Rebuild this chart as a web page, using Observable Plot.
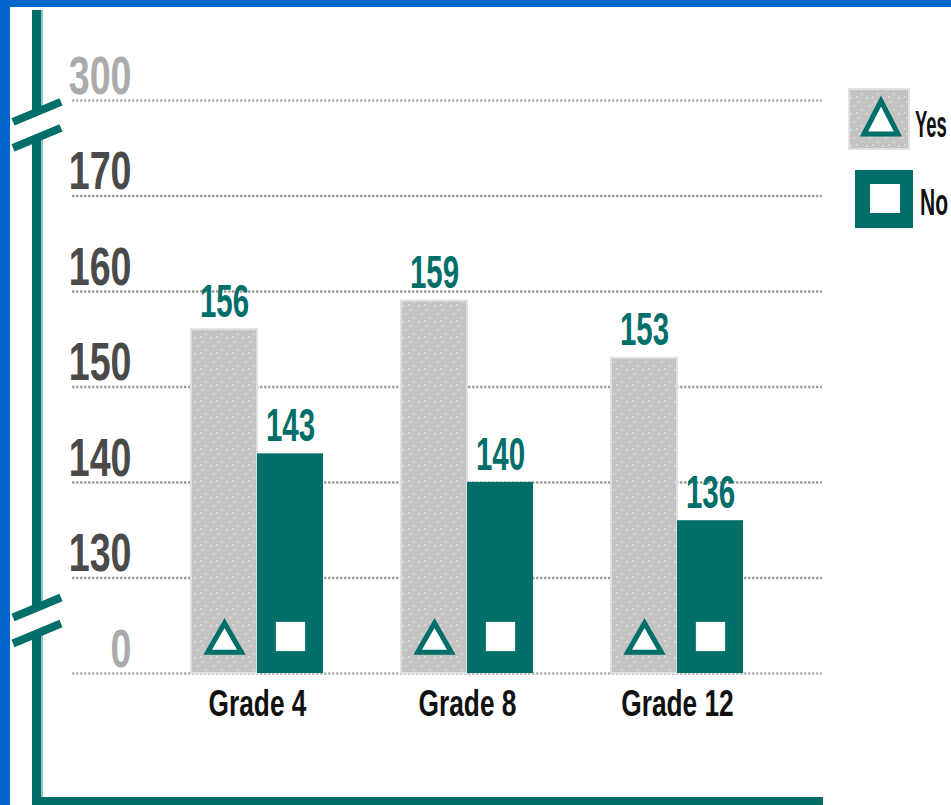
<!DOCTYPE html>
<html>
<head>
<meta charset="utf-8">
<script src="https://cdn.jsdelivr.net/npm/d3@7"></script>
<script src="https://cdn.jsdelivr.net/npm/@observablehq/plot@0.6"></script>
<style>
  html, body { margin: 0; padding: 0; background: #ffffff; overflow: hidden; }
  #wrap { position: relative; width: 951px; height: 805px; overflow: hidden; background: #ffffff; }
  #chart svg { display: block; }
  .edge-top { position: absolute; left: 0; top: 0; width: 951px; height: 7px; background: #0066cc; }
  .edge-left { position: absolute; left: 0; top: 0; width: 10px; height: 805px; background: #0066cc; }
</style>
</head>
<body>
<div id="wrap">
  <div id="chart"></div>
  <div class="edge-top"></div>
  <div class="edge-left"></div>
</div>
<script>
// ---------------- data ----------------
const grades = ["Grade 4", "Grade 8", "Grade 12"];
const yesValues = [156, 159, 153];
const noValues = [143, 140, 136];
const tickValues = [0, 130, 140, 150, 160, 170, 300];
const seriesLabels = ["Yes", "No"];

// ---------------- broken axis mapping ----------------
// 0 sits one step below 130, 300 one step above 170 (axis breaks)
function disp(v) {
  if (v <= 0) return 120;
  if (v >= 300) return 180;
  return v;
}

const rows = grades.map((g, i) => ({grade: g, yes: yesValues[i], no: noValues[i]}));

const TEAL = "#006e69";
const FONT = "'Liberation Sans', Arial, sans-serif";

const W = 951, H = 805;
const mL = 72, mR = 129, mT = 100, mB = 132;
const pIn = 0.373, pOut = 0.468;
const step = (W - mL - mR) / (grades.length - pIn + 2 * pOut);
const bw = step * (1 - pIn);

const plot = Plot.plot({
  width: W,
  height: H,
  marginLeft: mL,
  marginRight: mR,
  marginTop: mT,
  marginBottom: mB,
  style: {background: "transparent", fontFamily: FONT, overflow: "visible"},
  x: {type: "band", domain: grades, paddingInner: pIn, paddingOuter: pOut, align: 0.6, axis: null},
  y: {domain: [120, 180], axis: null},
  marks: [
    // gridlines
    Plot.ruleY(tickValues.filter(d => d !== 0 && d !== 300), {y: d => disp(d), stroke: "#9e9e9e", strokeWidth: 2.5, strokeDasharray: "2.5,1.5"}),
    Plot.ruleY(tickValues.filter(d => d === 0 || d === 300), {y: d => disp(d), stroke: "#b4b4b4", strokeWidth: 2.5, strokeDasharray: "2.5,1.5"}),
    // bars
    Plot.barY(rows, {x: "grade", y1: () => disp(0), y2: d => disp(d.yes), insetRight: bw / 2, fill: "url(#dotfill)", stroke: "#e0e0e0", strokeWidth: 2}),
    Plot.barY(rows, {x: "grade", y1: () => disp(0), y2: d => disp(d.no), insetLeft: bw / 2, fill: TEAL}),
    // symbols inside the bars
    Plot.dot(rows, {x: "grade", frameAnchor: "bottom", dx: -bw / 4, dy: -31, symbol: "triangle", r: 12.5, stroke: TEAL, strokeWidth: 5, fill: "white"}),
    Plot.dot(rows, {x: "grade", frameAnchor: "bottom", dx: bw / 4, dy: -37, symbol: "square", r: 16.5, fill: "white"}),
    // value labels (text mark #0, #1)
    Plot.text(rows, {x: "grade", y: d => disp(d.yes), text: d => String(d.yes), dx: -bw / 4, dy: -13, lineAnchor: "bottom", textAnchor: "middle", fill: TEAL, fontSize: 46, fontWeight: "bold"}),
    Plot.text(rows, {x: "grade", y: d => disp(d.no), text: d => String(d.no), dx: bw / 4, dy: -13, lineAnchor: "bottom", textAnchor: "middle", fill: TEAL, fontSize: 46, fontWeight: "bold"}),
    // category labels (text mark #2)
    Plot.text(grades, {x: d => d, text: d => d, frameAnchor: "bottom", dy: 42, lineAnchor: "bottom", textAnchor: "middle", fill: "#111111", fontSize: 37, fontWeight: "bold"}),
    // y tick labels (text mark #3, #4)
    Plot.text(tickValues.filter(d => d !== 0 && d !== 300), {y: d => disp(d), text: d => String(d), frameAnchor: "left", dx: 59, dy: -7, textAnchor: "end", lineAnchor: "bottom", fill: "#4a4a4a", fontSize: 53, fontWeight: "bold"}),
    Plot.text(tickValues.filter(d => d === 0 || d === 300), {y: d => disp(d), text: d => String(d), frameAnchor: "left", dx: 59, dy: -7, textAnchor: "end", lineAnchor: "bottom", fill: "#ababab", fontSize: 53, fontWeight: "bold"})
  ]
});

document.getElementById("chart").appendChild(plot);

// ---------------- dotted fill pattern ----------------
const svg = d3.select(plot);
const defs = svg.insert("defs", ":first-child");
const pat = defs.append("pattern").attr("id", "dotfill").attr("patternUnits", "userSpaceOnUse")
  .attr("width", 16).attr("height", 16);
pat.append("rect").attr("width", 16).attr("height", 16).attr("fill", "#c3c3c3");
[[2, 1], [10, 5], [5, 9], [13, 13], [8, 0]].forEach(([x, y]) =>
  pat.append("rect").attr("x", x).attr("y", y).attr("width", 2).attr("height", 2).attr("fill", "#d8d8d8"));

// ---------------- condensed lettering ----------------
const textGroups = Array.from(plot.querySelectorAll('g[aria-label="text"]'));
function condense(group, s) {
  if (!group) return;
  group.querySelectorAll("text").forEach(t => {
    const tr = t.getAttribute("transform") || "";
    const x = +(t.getAttribute("x") || 0), y = +(t.getAttribute("y") || 0);
    t.removeAttribute("x"); t.removeAttribute("y");
    t.setAttribute("transform", `${tr} translate(${x},${y}) scale(${s},1)`);
  });
}
condense(textGroups[0], 0.64);
condense(textGroups[1], 0.64);
condense(textGroups[2], 0.71);
condense(textGroups[3], 0.71);
condense(textGroups[4], 0.71);

// ---------------- teal axis frame with breaks ----------------
const yS = plot.scale("y");
const y180 = yS.apply(180), y170 = yS.apply(170), y130 = yS.apply(130), y120 = yS.apply(120);
const brTop = y180 + 0.26 * (y170 - y180);
const brBot = y130 + 0.45 * (y120 - y130);
const gap = 13;
const frame = svg.append("g").attr("aria-label", "axis-frame");
const segs = [[10, brTop - gap], [brTop + gap, brBot - gap], [brBot + gap, H + 1]];
segs.forEach(([a, b]) => {
  frame.append("rect").attr("x", 32).attr("y", a).attr("width", 9).attr("height", b - a).attr("fill", TEAL);
  frame.append("rect").attr("x", 41).attr("y", a).attr("width", 2).attr("height", b - a).attr("fill", "#8ec7c5");
});
frame.append("rect").attr("x", 32).attr("y", 797).attr("width", 791).attr("height", 10).attr("fill", TEAL);
[brTop, brBot].forEach(c => {
  [-gap, gap].forEach(o => {
    frame.append("line")
      .attr("x1", 13).attr("y1", c + o + 10)
      .attr("x2", 61).attr("y2", c + o - 10)
      .attr("stroke", TEAL).attr("stroke-width", 8);
  });
});

// ---------------- legend ----------------
const leg = svg.append("g").attr("aria-label", "legend").style("font-family", FONT).attr("text-anchor", "start");
// Yes
leg.append("rect").attr("x", 849).attr("y", 89).attr("width", 60).attr("height", 60)
  .attr("fill", "url(#dotfill)").attr("stroke", "#e2e2e2").attr("stroke-width", 2);
leg.append("polygon").attr("points", "881,101 864,134 898,134")
  .attr("fill", "white").attr("stroke", TEAL).attr("stroke-width", 5).attr("stroke-linejoin", "miter");
// No
leg.append("rect").attr("x", 855).attr("y", 170).attr("width", 58).attr("height", 58).attr("fill", TEAL);
leg.append("rect").attr("x", 870).attr("y", 184).attr("width", 30).attr("height", 29).attr("fill", "white");
[[seriesLabels[0], 915, 137, 0.5], [seriesLabels[1], 920, 215, 0.57]].forEach(([t, x, y, s]) => {
  leg.append("text").attr("transform", `translate(${x},${y}) scale(${s},1)`)
    .attr("text-anchor", "start")
    .attr("font-size", 37).attr("font-weight", "bold").attr("fill", "#111").text(t);
});
</script>
</body>
</html>
